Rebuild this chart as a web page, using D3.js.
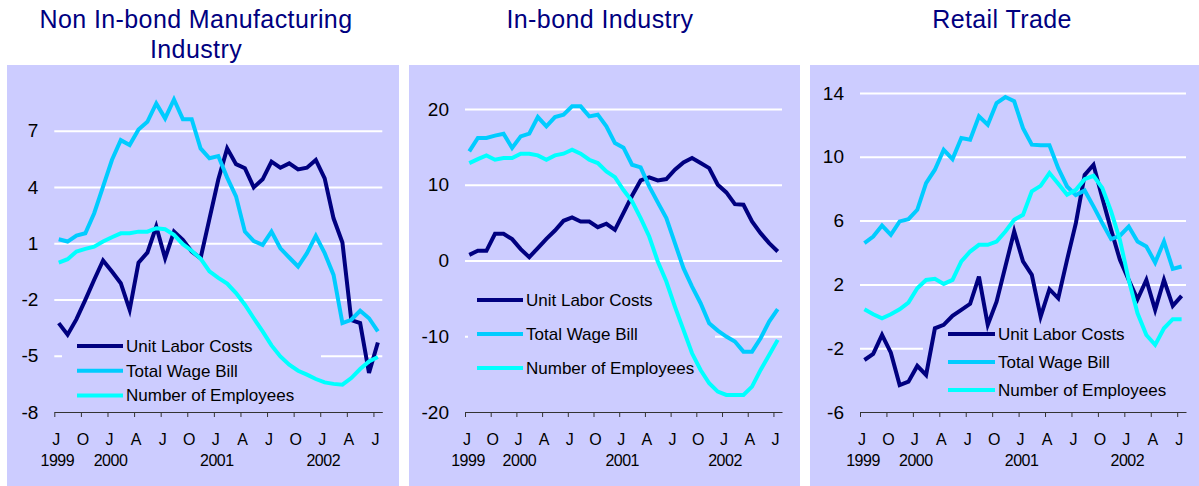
<!DOCTYPE html>
<html>
<head>
<meta charset="utf-8">
<script src="https://cdn.jsdelivr.net/npm/d3@7"></script>
<style>
  body { margin: 0; background: #fff; }
  svg text { font-family: "Liberation Sans", Arial, sans-serif; }
</style>
</head>
<body>
<svg id="chart" width="1199" height="486"></svg>
<script>
// Monthly observations, July 1999 - July 2002 (37 months)
var months = d3.timeMonth.range(new Date(1999, 6, 1), new Date(2002, 7, 1));

// quarterly tick labels, one every 3 months starting July 1999
var monthTickLabels = ["J", "O", "J", "A", "J", "O", "J", "A", "J", "O", "J", "A", "J"];
// year labels: first month, then each January
var yearLabels = ["1999", "2000", "2001", "2002"];

var seriesNames = ["Unit Labor Costs", "Total Wage Bill", "Number of Employees"];

// Non In-bond Manufacturing Industry
var nonInbondULC = [-3.26, -3.88, -3.05, -2.02, -0.95, 0.08, -0.51, -1.13, -2.55, -0.03, 0.5, 1.89, 0.2, 1.62, 1.18, 0.56, 0.2, 2.3, 4.4, 6.06, 5.22, 5.0, 3.98, 4.41, 5.35, 5.03, 5.26, 4.94, 5.03, 5.44, 4.46, 2.33, 1.04, -3.1, -3.26, -5.92, -4.29];
var nonInbondWage = [1.21, 1.09, 1.41, 1.53, 2.6, 4.02, 5.44, 6.5, 6.24, 7.07, 7.48, 8.46, 7.66, 8.67, 7.62, 7.62, 6.06, 5.53, 5.65, 4.5, 3.5, 1.62, 1.12, 0.91, 1.62, 0.73, 0.24, -0.24, 0.47, 1.39, 0.47, -0.69, -3.26, -3.08, -2.6, -3.0, -3.7];
var nonInbondEmp = [-0.03, 0.15, 0.56, 0.7, 0.82, 1.09, 1.32, 1.53, 1.53, 1.62, 1.62, 1.8, 1.75, 1.45, 0.95, 0.6, 0.18, -0.5, -0.85, -1.15, -1.66, -2.28, -3.0, -3.7, -4.45, -5.04, -5.48, -5.8, -6.01, -6.24, -6.42, -6.5, -6.54, -6.19, -5.71, -5.3, -5.07];

// In-bond Industry
var inbondULC = [0.75, 1.28, 1.28, 3.52, 3.52, 2.82, 1.5, 0.44, 1.63, 2.86, 3.96, 5.24, 5.68, 5.15, 5.15, 4.4, 4.85, 4.05, 6.3, 8.55, 10.57, 10.97, 10.57, 10.75, 11.98, 12.95, 13.52, 12.86, 12.2, 10.0, 8.99, 7.44, 7.36, 5.15, 3.61, 2.29, 1.19];
var inbondWage = [14.41, 16.17, 16.17, 16.48, 16.74, 14.85, 16.39, 16.74, 18.94, 17.71, 18.94, 19.25, 20.35, 20.35, 19.03, 19.25, 17.71, 15.5, 14.9, 12.64, 12.29, 9.78, 7.67, 5.59, 2.29, -1.01, -3.44, -5.64, -8.28, -9.25, -10.04, -10.7, -12.03, -12.03, -10.26, -8.06, -6.43];
var inbondEmp = [12.86, 13.39, 13.88, 13.3, 13.52, 13.52, 14.1, 14.1, 13.88, 13.3, 13.88, 14.1, 14.63, 14.1, 13.3, 12.86, 11.76, 11.01, 9.3, 7.8, 5.59, 3.17, -0.13, -2.78, -6.08, -9.16, -12.25, -14.45, -16.21, -17.31, -17.75, -17.75, -17.75, -16.65, -14.45, -12.47, -10.48];

// Retail Trade
var retailULC = [-2.74, -2.36, -1.17, -2.28, -4.31, -4.1, -3.11, -3.68, -0.75, -0.54, 0.03, 0.4, 0.78, 2.49, -0.54, 0.92, 3.12, 5.32, 3.44, 2.6, -0.02, 1.7, 1.13, 3.54, 5.84, 8.87, 9.5, 7.41, 5.42, 3.54, 2.28, 1.07, 2.28, 0.4, 2.28, 0.65, 1.28];
var retailWage = [4.59, 5.0, 5.69, 5.11, 5.95, 6.09, 6.68, 8.35, 9.19, 10.44, 9.86, 11.18, 11.07, 12.54, 12.01, 13.37, 13.75, 13.48, 11.8, 10.76, 10.72, 10.72, 9.29, 8.14, 7.6, 7.89, 6.89, 5.84, 4.84, 5.05, 5.63, 4.69, 4.38, 3.37, 4.69, 2.97, 3.12];
var retailEmp = [0.44, 0.13, -0.12, 0.13, 0.44, 0.86, 1.76, 2.28, 2.35, 2.03, 2.28, 3.44, 4.06, 4.48, 4.48, 4.69, 5.32, 6.05, 6.36, 7.83, 8.18, 8.98, 8.31, 7.62, 7.93, 8.6, 8.81, 8.04, 6.57, 4.79, 2.28, 0.19, -1.17, -1.79, -0.75, -0.18, -0.18];

// y axis ticks per panel
var nonInbondTicks = [-8, -5, -2, 1, 4, 7];
var inbondTicks = [-20, -10, 0, 10, 20];
var retailTicks = [-6, -2, 2, 6, 10, 14];

var colors = ["#000080", "#00CCFF", "#00FFFF"];
var bgColor = "#CCCCFF";

var panels = [
    {
        title: ["Non In-bond Manufacturing", "Industry"], titleX: 196,
        series: [nonInbondULC, nonInbondWage, nonInbondEmp],
        ticks: nonInbondTicks, domain: [-8, 10], yRange: [412, 74.5],
        bg: [7, 399], plotX: [54.3, 382.3],
        legend: { x: 77, textX: 126, y: 346, step: 24.7, box: [62, 328, 321, 408] }
    },
    {
        title: ["In-bond Industry"], titleX: 600,
        series: [inbondULC, inbondWage, inbondEmp],
        ticks: inbondTicks, domain: [-20, 20], yRange: [412, 109],
        bg: [409, 800], plotX: [465, 782],
        legend: { x: 477, textX: 526, y: 300, step: 34, box: [468, 280, 715, 392] }
    },
    {
        title: ["Retail Trade"], titleX: 1002,
        series: [retailULC, retailWage, retailEmp],
        ticks: retailTicks, domain: [-6, 14], yRange: [412, 93],
        bg: [810, 1199], plotX: [860, 1186],
        legend: { x: 948, textX: 998, y: 334, step: 28, box: [923, 315, 1188, 406] }
    }
];

var svg = d3.select("#chart");

panels.forEach(function (p) {
    var g = svg.append("g");

    // panel background
    g.append("rect")
        .attr("x", p.bg[0]).attr("y", 65)
        .attr("width", p.bg[1] - p.bg[0]).attr("height", 421)
        .attr("fill", bgColor);

    // title
    p.title.forEach(function (t, i) {
        g.append("text")
            .attr("x", p.titleX).attr("y", 28 + i * 30)
            .attr("text-anchor", "middle")
            .attr("font-size", 25)
            .attr("letter-spacing", "0.4")
            .attr("fill", "#000080")
            .text(t);
    });

    // scales: months as bands, ticks between categories
    var x = d3.scaleBand().domain(d3.range(months.length)).range(p.plotX).padding(0);
    var xEdge = d3.scaleLinear().domain([0, months.length]).range(p.plotX);
    var y = d3.scaleLinear().domain(p.domain).range(p.yRange);

    // gridlines (skip the bottom one, the axis sits there)
    var grid = g.append("g")
        .attr("transform", "translate(" + p.plotX[0] + ",0)")
        .call(d3.axisLeft(y)
            .tickValues(p.ticks.slice(1))
            .tickSize(-(p.plotX[1] - p.plotX[0]))
            .tickFormat(""));
    grid.select(".domain").remove();
    grid.selectAll("line").attr("stroke", "#fff").attr("stroke-width", 2);

    // legend box hides the gridlines behind it
    var lb = p.legend.box;
    g.append("rect")
        .attr("x", lb[0]).attr("y", lb[1])
        .attr("width", lb[2] - lb[0]).attr("height", lb[3] - lb[1])
        .attr("fill", bgColor);

    // y axis labels (plain hyphen for negatives)
    var yAxis = g.append("g")
        .attr("transform", "translate(" + p.plotX[0] + ",0)")
        .call(d3.axisLeft(y).tickValues(p.ticks).tickSize(0).tickPadding(16)
            .tickFormat(function (d) { return String(d); }));
    yAxis.select(".domain").remove();
    yAxis.selectAll("text").attr("font-size", 19).attr("fill", "#000")
        .style("font-family", "'Liberation Sans', Arial, sans-serif");

    // x axis: ticks every quarter at category edges
    var xAxis = g.append("g")
        .attr("transform", "translate(0," + p.yRange[0] + ")")
        .call(d3.axisBottom(xEdge)
            .tickValues(d3.range(0, months.length, 3))
            .tickSize(5).tickSizeOuter(0)
            .tickFormat(""));
    xAxis.select(".domain").attr("stroke", "#333");
    xAxis.selectAll("line").attr("stroke", "#333");

    // month letters and years
    var labelIdx = d3.range(0, months.length, 3);
    g.selectAll(".mlab")
        .data(labelIdx)
        .enter().append("text")
        .attr("x", function (d) { return xEdge(d) + 2; })
        .attr("y", 445)
        .attr("text-anchor", "middle")
        .attr("font-size", 16)
        .text(function (d, i) { return monthTickLabels[i]; });

    var yearIdx = months.map(function (m, i) { return i; })
        .filter(function (i) { return i === 0 || months[i].getMonth() === 0; });
    g.selectAll(".ylab")
        .data(yearIdx)
        .enter().append("text")
        .attr("x", function (d) { return xEdge(d) + 3; })
        .attr("y", 466)
        .attr("text-anchor", "middle")
        .attr("font-size", 16)
        .attr("letter-spacing", "-0.5")
        .text(function (d, i) { return yearLabels[i]; });

    // the lines
    var line = d3.line()
        .x(function (d, i) { return x(i) + x.bandwidth() / 2; })
        .y(function (d) { return y(d); });

    p.series.forEach(function (s, k) {
        g.append("path")
            .attr("d", line(s))
            .attr("fill", "none")
            .attr("stroke", colors[k])
            .attr("stroke-width", 4)
            .attr("stroke-linejoin", "miter");
    });

    // legend
    seriesNames.forEach(function (name, k) {
        var ly = p.legend.y + k * p.legend.step;
        g.append("line")
            .attr("x1", p.legend.x).attr("x2", p.legend.textX - 3)
            .attr("y1", ly).attr("y2", ly)
            .attr("stroke", colors[k]).attr("stroke-width", 4);
        g.append("text")
            .attr("x", p.legend.textX).attr("y", ly)
            .attr("dy", "0.35em")
            .attr("font-size", 17)
            .attr("fill", "#000")
            .text(name);
    });
});
</script>
</body>
</html>
